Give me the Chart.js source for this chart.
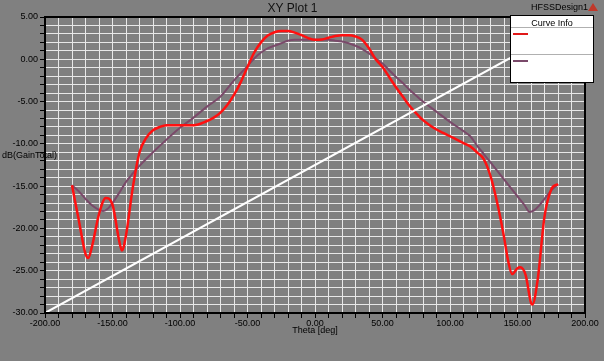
<!DOCTYPE html>
<html>
<head>
<meta charset="utf-8">
<script src="https://cdn.jsdelivr.net/npm/chart.js@4.4.0/dist/chart.umd.min.js"></script>
<style>
  body { margin: 0; background: #808080; }
  #wrap { position: relative; width: 604px; height: 361px; font-family: "Liberation Sans", Arial, sans-serif; }
  #plot { position: absolute; left: 0; top: 0; }
  .txt { position: absolute; font-size: 9px; color: #000; white-space: nowrap; }
  #legendBox { position: absolute; left: 510px; top: 15px; width: 82px; height: 66px; background: #fff; border: 1px solid #000; }
  #legendBox .hd { position: absolute; left: 0; top: 2px; width: 82px; text-align: center; font-size: 9px; }
  #legendBox .sep { position: absolute; left: 0; width: 82px; height: 1px; background: #b0b0b0; }
  #legendBox .sw { position: absolute; left: 2px; width: 15px; height: 2px; }
  #logo { position: absolute; left: 588px; top: 3px; width: 0; height: 0; border-left: 5px solid transparent; border-right: 5px solid transparent; border-bottom: 8px solid #c0392b; }
</style>
</head>
<body>
<div id="wrap">
  <canvas id="plot" width="604" height="361"></canvas>
  <div class="txt" style="left:531px; top:2px;">HFSSDesign1</div>
  <div id="logo"></div>
  <div class="txt" style="left:2px; top:150px;">dB(GainTotal)</div>
  <div id="legendBox">
    <div class="hd">Curve Info</div>
    <div class="sep" style="top:11px;"></div>
    <div class="sw" style="top:17px; background:#e01818;"></div>
    <div class="sep" style="top:38px;"></div>
    <div class="sw" style="top:44px; background:#7a4a6a;"></div>
  </div>
</div>
<script>
// valori (Theta in gradi, guadagno in dB)
var thetaRosso = [-180, -175, -170, -168, -165, -160, -155, -150, -145, -143, -140, -135, -130, -125, -120, -115, -110, -100, -90, -80, -75, -70, -65, -60, -55, -50, -45, -40, -35, -30, -25, -20, -15, -10, -5, 0, 5, 10, 15, 20, 25, 30, 35, 40, 45, 50, 55, 60, 65, 70, 75, 80, 85, 90, 95, 100, 105, 110, 115, 120, 125, 130, 135, 140, 143, 146, 150, 152, 156, 160, 161, 165, 170, 175, 180];
var gainRosso = [-14.9, -19.0, -23.0, -23.5, -22.0, -18.3, -16.4, -17.2, -21.5, -22.6, -20.8, -15.2, -11.0, -9.3, -8.4, -8.0, -7.8, -7.8, -7.8, -7.3, -6.9, -6.3, -5.4, -4.2, -2.7, -0.9, 0.8, 2.0, 2.8, 3.2, 3.35, 3.35, 3.15, 2.85, 2.5, 2.3, 2.35, 2.55, 2.75, 2.85, 2.85, 2.7, 2.3, 1.3, 0.0, -0.9, -2.1, -3.3, -4.4, -5.5, -6.4, -7.2, -7.8, -8.3, -8.7, -9.1, -9.5, -9.9, -10.3, -11.0, -11.8, -13.8, -17.0, -21.0, -23.8, -25.4, -24.7, -24.6, -25.5, -28.8, -29.0, -26.0, -18.6, -15.4, -14.75];

var thetaViola = [-180, -175, -170, -165, -160, -157, -153, -150, -145, -140, -135, -130, -120, -110, -100, -90, -80, -70, -60, -50, -45, -40, -35, -30, -25, -20, -15, -10, 0, 10, 15, 20, 25, 30, 35, 40, 45, 50, 55, 60, 65, 70, 75, 80, 90, 100, 110, 115, 120, 125, 130, 135, 140, 145, 150, 155, 159, 162, 166, 170, 175, 180];
var gainViola = [-14.9, -15.6, -16.5, -17.3, -17.8, -17.95, -17.6, -17.0, -15.8, -14.5, -13.5, -12.6, -11.0, -9.5, -8.1, -6.9, -5.6, -4.4, -2.5, -0.8, 0.1, 0.8, 1.3, 1.6, 1.9, 2.2, 2.3, 2.3, 2.3, 2.3, 2.2, 2.1, 1.9, 1.6, 1.2, 0.7, 0.1, -0.5, -1.3, -2.1, -2.8, -3.6, -4.3, -5.0, -6.2, -7.4, -8.5, -9.1, -10.2, -11.2, -12.2, -13.2, -14.2, -15.2, -16.2, -17.2, -18.05, -17.9, -17.3, -16.5, -15.5, -14.8];

// retta bianca (diagonale del grafico)
var thetaRetta = [-200, 200];
var gainRetta = [-30, 5];

var xTicksMajor = [-200, -150, -100, -50, 0, 50, 100, 150, 200];
var yTicksMajor = [-30, -25, -20, -15, -10, -5, 0, 5];

function punti(xs, ys) {
  var out = [];
  for (var i = 0; i < xs.length; i++) {
    out.push({ x: xs[i], y: ys[i] });
  }
  return out;
}

// cornice nera attorno all'area del grafico
var cornice = {
  id: 'cornice',
  afterDatasetsDraw: function (chart) {
    var a = chart.chartArea;
    var ctx = chart.ctx;
    ctx.save();
    ctx.strokeStyle = '#000';
    ctx.lineWidth = 2;
    ctx.strokeRect(a.left, a.top, a.right - a.left, a.bottom - a.top);
    ctx.restore();
  }
};

var fontPiccolo = { family: 'Liberation Sans', size: 9 };

var ctx = document.getElementById('plot');
var chart = new Chart(ctx, {
  type: 'line',
  data: {
    datasets: [
      {
        label: 'retta',
        data: punti(thetaRetta, gainRetta),
        borderColor: '#ffffff',
        borderWidth: 2,
        pointRadius: 0,
        tension: 0
      },
      {
        label: 'dB(GainTotal) 1',
        data: punti(thetaRosso, gainRosso),
        borderColor: '#ff1010',
        borderWidth: 2.5,
        pointRadius: 0,
        cubicInterpolationMode: 'monotone'
      },
      {
        label: 'dB(GainTotal) 2',
        data: punti(thetaViola, gainViola),
        borderColor: '#7a4a6a',
        borderWidth: 2,
        pointRadius: 0,
        cubicInterpolationMode: 'monotone'
      }
    ]
  },
  options: {
    responsive: false,
    animation: false,
    layout: { padding: { left: 0, right: 19, top: 0, bottom: 0 } },
    plugins: {
      legend: { display: false },
      tooltip: { enabled: false },
      title: {
        display: true,
        text: 'XY Plot 1',
        color: '#111',
        font: { family: 'Liberation Sans', size: 12, weight: 'normal', lineHeight: 1 },
        padding: { top: 3, bottom: 2 }
      }
    },
    scales: {
      x: {
        type: 'linear',
        min: -200,
        max: 200,
        afterFit: function (scale) { scale.height = 48; },
        border: { color: '#000', width: 2 },
        grid: {
          color: '#e8e8e8',
          lineWidth: 1,
          tickColor: '#000',
          tickLength: 5
        },
        ticks: {
          stepSize: 10,
          autoSkip: false,
          maxRotation: 0,
          padding: 0,
          color: '#000',
          font: fontPiccolo,
          callback: function (v) {
            return xTicksMajor.indexOf(v) >= 0 ? v.toFixed(2) : '';
          }
        },
        title: {
          display: true,
          text: 'Theta [deg]',
          color: '#000',
          font: fontPiccolo,
          padding: { top: 0, bottom: 25 }
        }
      },
      y: {
        min: -30,
        max: 5,
        afterFit: function (scale) { scale.width = 45; },
        border: { color: '#000', width: 2 },
        grid: {
          color: '#e8e8e8',
          lineWidth: 1,
          tickColor: '#000',
          tickLength: 5
        },
        ticks: {
          stepSize: 1,
          autoSkip: false,
          padding: 2,
          color: '#000',
          font: fontPiccolo,
          callback: function (v) {
            return yTicksMajor.indexOf(v) >= 0 ? v.toFixed(2) : '';
          }
        }
      }
    }
  },
  plugins: [cornice]
});
</script>
</body>
</html>
